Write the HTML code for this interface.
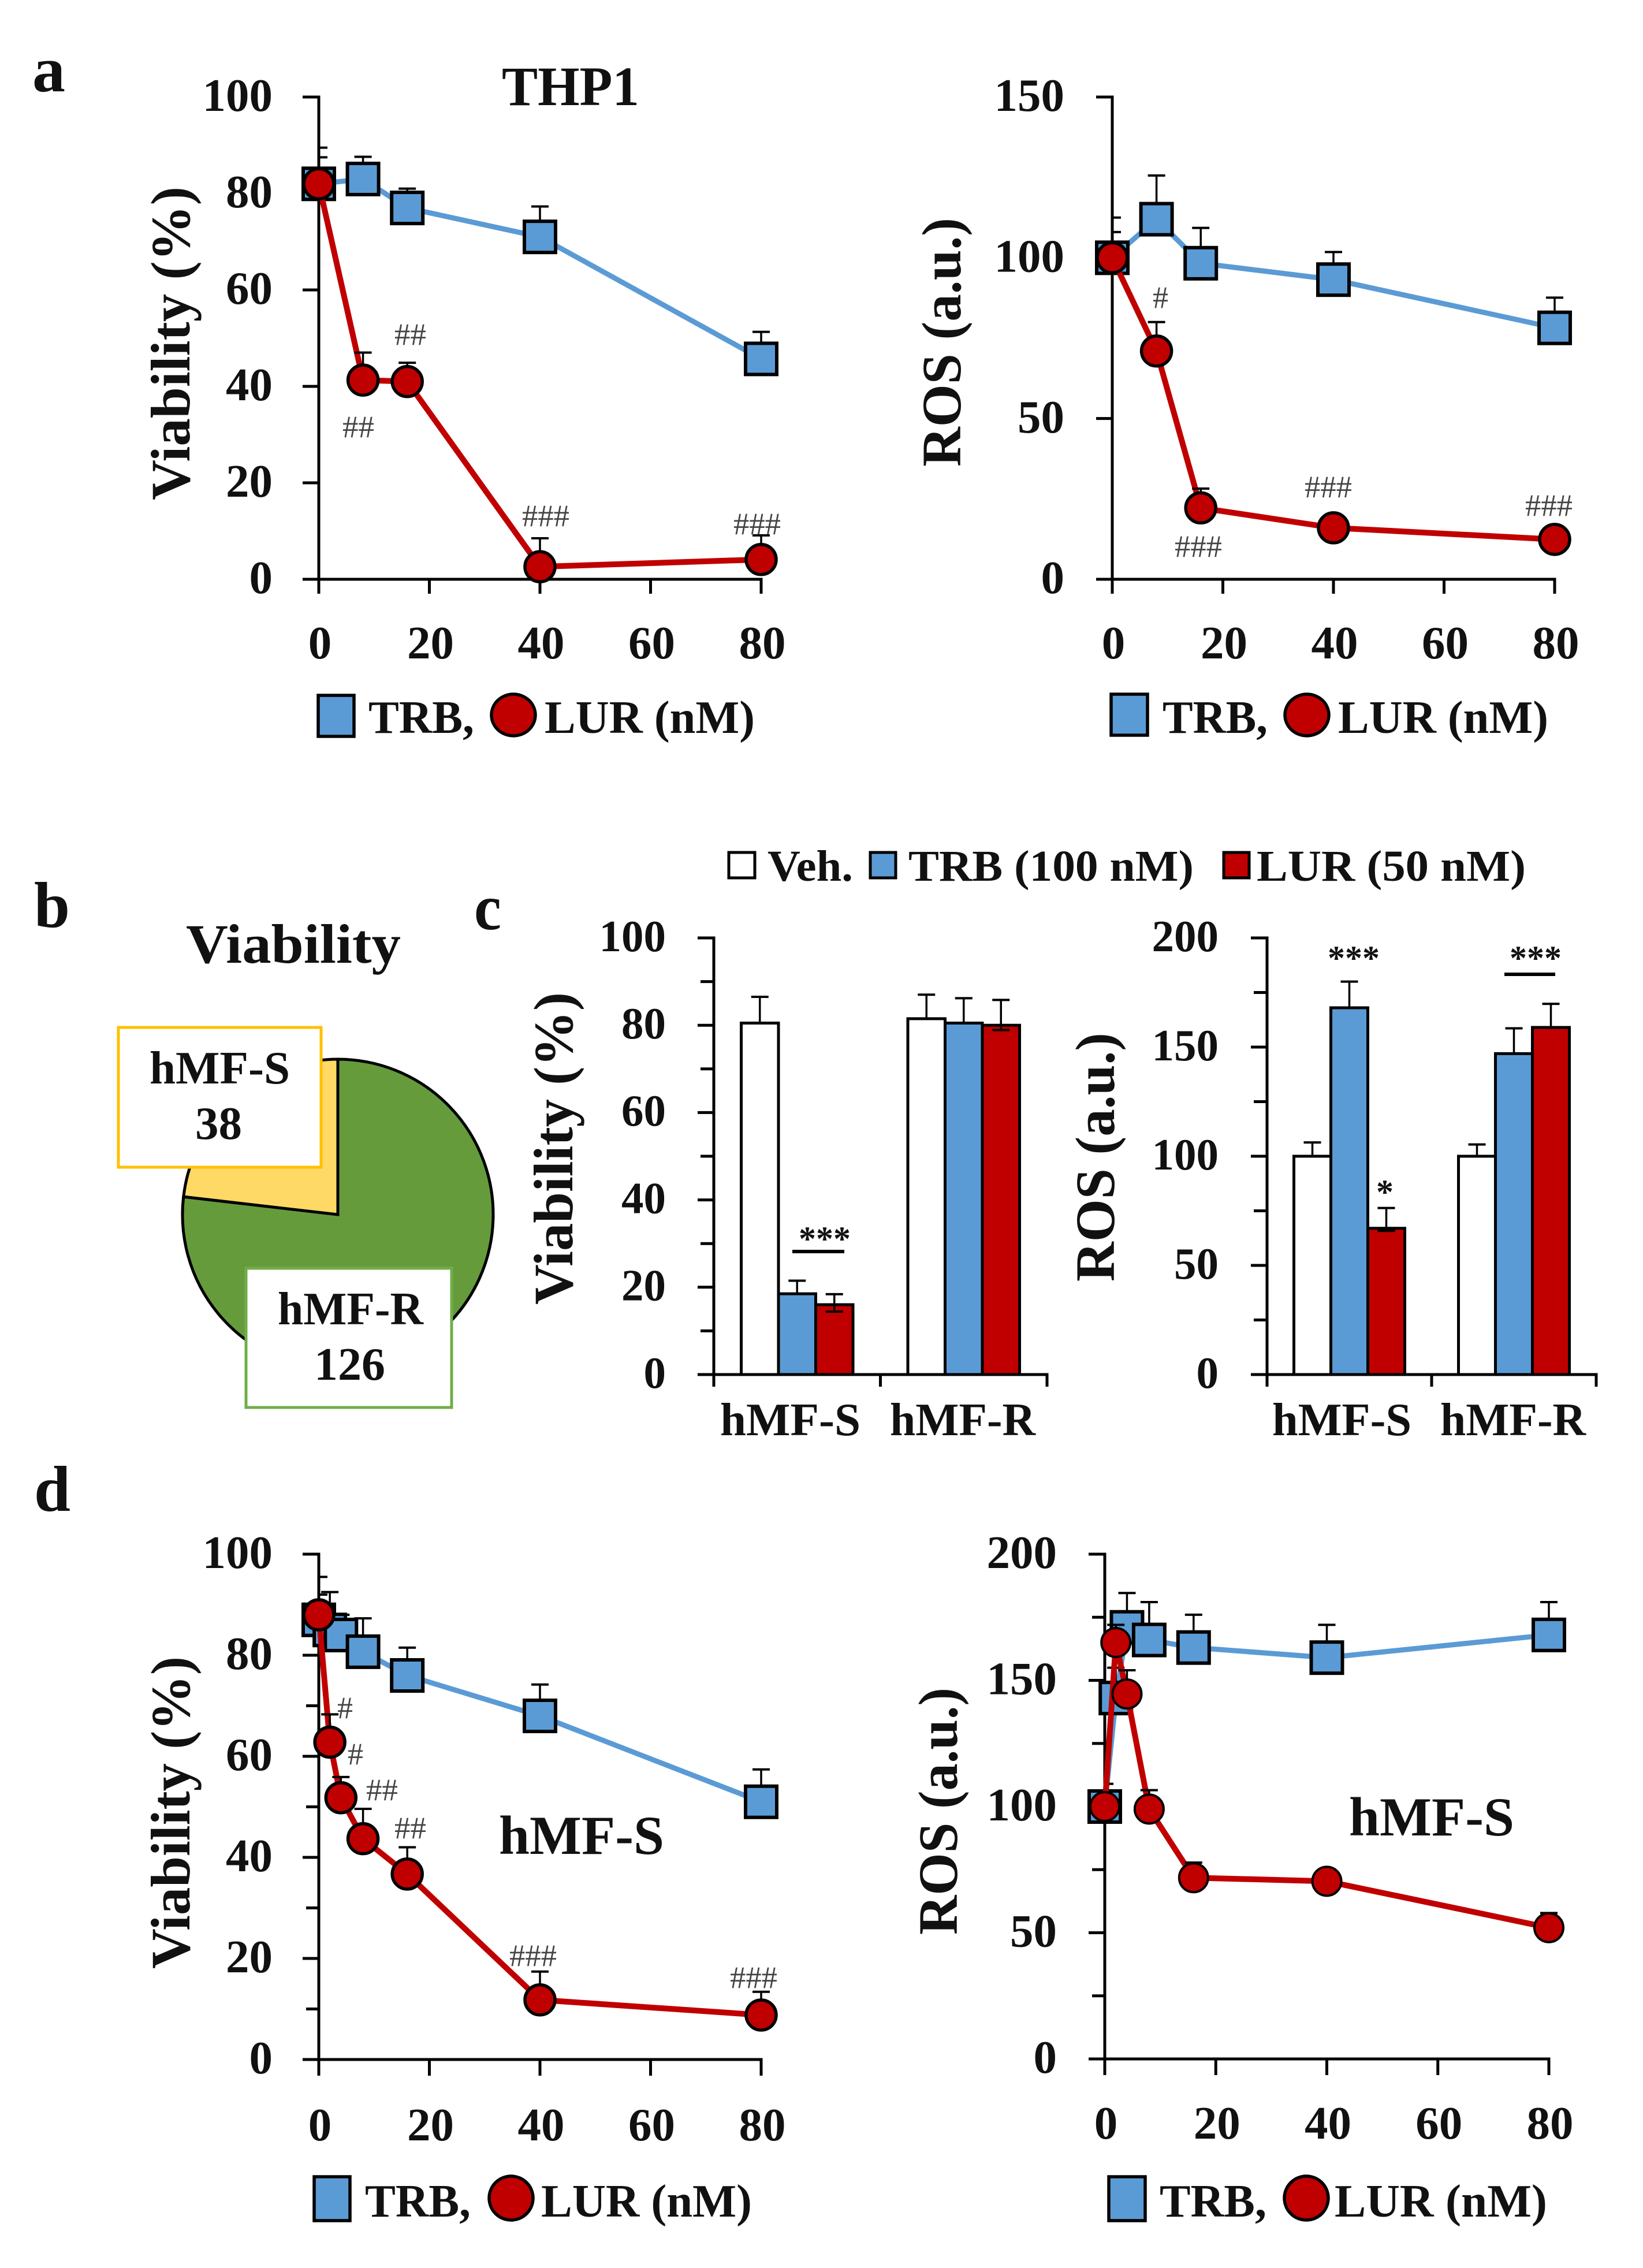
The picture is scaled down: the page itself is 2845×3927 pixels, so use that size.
<!DOCTYPE html>
<html lang="en">
<head>
<meta charset="utf-8">
<title>TRB and LUR viability and ROS charts</title>
<style>
html,body{margin:0;padding:0;background:#fff;}
svg{display:block;}
text{font-family:"Liberation Serif","DejaVu Serif",serif;font-weight:bold;fill:#111;}
.h{font-weight:normal;fill:#444;font-size:54px;}
.pl{font-size:112px;}
.t96{font-size:96px;}
.t80{font-size:80px;}
.t76{font-size:76px;}
.t95{font-size:95px;}
.st{font-size:60px;}
</style>
</head>
<body>
<svg id="fig" xmlns="http://www.w3.org/2000/svg" width="2845" height="3927" viewBox="0 0 2845 3927">
<rect x="0" y="0" width="2845" height="3927" fill="#fff"/>

<g id="chart-a-viab"></g>
<g id="chart-a-ros"></g>
<g id="pie"></g>
<g id="chart-c-viab"></g>
<g id="chart-c-ros"></g>
<g id="chart-d-viab"></g>
<g id="chart-d-ros"></g>

<g>
<text class="pl" x="56" y="158" textLength="57" lengthAdjust="spacingAndGlyphs">a</text>
<text class="pl" x="59" y="1605" textLength="62" lengthAdjust="spacingAndGlyphs">b</text>
<text class="pl" x="821" y="1609" textLength="47" lengthAdjust="spacingAndGlyphs">c</text>
<text class="pl" x="59" y="2616" textLength="63" lengthAdjust="spacingAndGlyphs">d</text>
</g>

<text class="t96" x="869" y="182" textLength="238" lengthAdjust="spacingAndGlyphs">THP1</text>
<text class="t96" x="322" y="1667" textLength="372" lengthAdjust="spacingAndGlyphs">Viability</text>
<text class="t95" x="864" y="3210" textLength="286" lengthAdjust="spacingAndGlyphs">hMF-S</text>
<text class="t95" x="2336" y="3178" textLength="286" lengthAdjust="spacingAndGlyphs">hMF-S</text>

<g>
<text class="t96" transform="translate(328 866) rotate(-90)" textLength="543" lengthAdjust="spacingAndGlyphs">Viability (%)</text>
<text class="t96" transform="translate(1663 808) rotate(-90)" textLength="431" lengthAdjust="spacingAndGlyphs">ROS (a.u.)</text>
<text class="t96" transform="translate(991 2259) rotate(-90)" textLength="541" lengthAdjust="spacingAndGlyphs">Viability (%)</text>
<text class="t96" transform="translate(1929 2219) rotate(-90)" textLength="431" lengthAdjust="spacingAndGlyphs">ROS (a.u.)</text>
<text class="t96" transform="translate(328 3409) rotate(-90)" textLength="541" lengthAdjust="spacingAndGlyphs">Viability (%)</text>
<text class="t96" transform="translate(1657 3350) rotate(-90)" textLength="428" lengthAdjust="spacingAndGlyphs">ROS (a.u.)</text>
</g>

<g>
<rect x="551" y="1204" width="62" height="71" fill="#5B9BD5" stroke="#000" stroke-width="5.5"/>
<text class="t80" x="638" y="1269" textLength="183" lengthAdjust="spacingAndGlyphs">TRB,</text>
<ellipse cx="889" cy="1238" rx="38" ry="36" fill="#C00000" stroke="#000" stroke-width="5.5"/>
<text class="t80" x="943" y="1269" textLength="364" lengthAdjust="spacingAndGlyphs">LUR (nM)</text>
</g>
<g>
<rect x="1924" y="1202" width="63" height="71" fill="#5B9BD5" stroke="#000" stroke-width="5.5"/>
<text class="t80" x="2013" y="1269" textLength="182" lengthAdjust="spacingAndGlyphs">TRB,</text>
<ellipse cx="2263" cy="1238" rx="38" ry="36" fill="#C00000" stroke="#000" stroke-width="5.5"/>
<text class="t80" x="2317" y="1269" textLength="364" lengthAdjust="spacingAndGlyphs">LUR (nM)</text>
</g>
<g>
<rect x="544" y="3769" width="62" height="76" fill="#5B9BD5" stroke="#000" stroke-width="5.5"/>
<text class="t80" x="632" y="3838" textLength="183" lengthAdjust="spacingAndGlyphs">TRB,</text>
<ellipse cx="885" cy="3806" rx="38" ry="38" fill="#C00000" stroke="#000" stroke-width="5.5"/>
<text class="t80" x="937" y="3838" textLength="365" lengthAdjust="spacingAndGlyphs">LUR (nM)</text>
</g>
<g>
<rect x="1920" y="3769" width="63" height="76" fill="#5B9BD5" stroke="#000" stroke-width="5.5"/>
<text class="t80" x="2008" y="3838" textLength="185" lengthAdjust="spacingAndGlyphs">TRB,</text>
<ellipse cx="2262" cy="3806" rx="38" ry="38" fill="#C00000" stroke="#000" stroke-width="5.5"/>
<text class="t80" x="2311" y="3838" textLength="368" lengthAdjust="spacingAndGlyphs">LUR (nM)</text>
</g>
<g>
<rect x="1262" y="1476" width="45" height="44" fill="#fff" stroke="#000" stroke-width="5"/>
<text class="t76" x="1329" y="1525" textLength="148" lengthAdjust="spacingAndGlyphs">Veh.</text>
<rect x="1507" y="1476" width="44" height="44" fill="#5B9BD5" stroke="#000" stroke-width="5"/>
<text class="t76" x="1573" y="1525" textLength="494" lengthAdjust="spacingAndGlyphs">TRB (100 nM)</text>
<rect x="2119" y="1476" width="44" height="44" fill="#C00000" stroke="#000" stroke-width="5"/>
<text class="t76" x="2176" y="1525" textLength="466" lengthAdjust="spacingAndGlyphs">LUR (50 nM)</text>
</g>

<g>
<text class="h" x="683" y="597" textLength="55" lengthAdjust="spacingAndGlyphs">##</text>
<text class="h" x="593" y="757" textLength="55" lengthAdjust="spacingAndGlyphs">##</text>
<text class="h" x="904" y="911" textLength="82" lengthAdjust="spacingAndGlyphs">###</text>
<text class="h" x="1270" y="925" textLength="82" lengthAdjust="spacingAndGlyphs">###</text>
<text class="h" x="1996" y="533" textLength="27" lengthAdjust="spacingAndGlyphs">#</text>
<text class="h" x="2259" y="861" textLength="82" lengthAdjust="spacingAndGlyphs">###</text>
<text class="h" x="2641" y="893" textLength="82" lengthAdjust="spacingAndGlyphs">###</text>
<text class="h" x="2034" y="964" textLength="82" lengthAdjust="spacingAndGlyphs">###</text>
<text class="h" x="584" y="2975" textLength="27" lengthAdjust="spacingAndGlyphs">#</text>
<text class="h" x="602" y="3055" textLength="27" lengthAdjust="spacingAndGlyphs">#</text>
<text class="h" x="634" y="3117" textLength="55" lengthAdjust="spacingAndGlyphs">##</text>
<text class="h" x="683" y="3183" textLength="55" lengthAdjust="spacingAndGlyphs">##</text>
<text class="h" x="882" y="3404" textLength="82" lengthAdjust="spacingAndGlyphs">###</text>
<text class="h" x="1264" y="3442" textLength="82" lengthAdjust="spacingAndGlyphs">###</text>
<text class="st" x="1383" y="2165" textLength="90" lengthAdjust="spacingAndGlyphs">***</text>
<line x1="1372" y1="2167" x2="1462" y2="2167" stroke="#000" stroke-width="6"/>
<text class="st" x="2299" y="1679" textLength="90" lengthAdjust="spacingAndGlyphs">***</text>
<text class="st" x="2614" y="1679" textLength="90" lengthAdjust="spacingAndGlyphs">***</text>
<line x1="2605" y1="1687" x2="2693" y2="1687" stroke="#000" stroke-width="6"/>
<text class="st" x="2383" y="2084" textLength="30" lengthAdjust="spacingAndGlyphs">*</text>
</g>

<g>
<rect x="205" y="1779" width="351" height="242" fill="#fff" stroke="#FFC000" stroke-width="5"/>
<text class="t80" x="259" y="1876" textLength="243" lengthAdjust="spacingAndGlyphs">hMF-S</text>
<text class="t80" x="338" y="1972" textLength="81" lengthAdjust="spacingAndGlyphs">38</text>
</g>
<g>
<rect x="426" y="2196" width="356" height="241" fill="#fff" stroke="#70AD47" stroke-width="5"/>
<text class="t80" x="481" y="2293" textLength="252" lengthAdjust="spacingAndGlyphs">hMF-R</text>
<text class="t80" x="544" y="2389" textLength="123" lengthAdjust="spacingAndGlyphs">126</text>
</g>
</svg>

<script>
/* ---------- Panel a: viability ---------- */
const aViabDose = [0, 8, 16, 40, 80];
const aViabTrb = [82, 83, 77, 71, 45.7];
const aViabTrbErr = [5.5, 4.6, 4, 6.3, 5.6];
const aViabLur = [82, 41.3, 41, 2.6, 4.1];
const aViabLurErr = [7.5, 5.7, 3.9, 5.9, 5];
const aViabYTicks = [0, 20, 40, 60, 80, 100];
const aViabXTicks = [0, 20, 40, 60, 80];

/* ---------- Panel a: ROS ---------- */
const aRosDose = [0, 8, 16, 40, 80];
const aRosTrb = [100, 112, 98.3, 93.2, 78.2];
const aRosTrbErr = [12.5, 13.6, 11, 8.6, 9.4];
const aRosLur = [100, 71, 22.2, 16, 12.4];
const aRosLurErr = [8, 9, 6, 0, 0];
const aRosYTicks = [0, 50, 100, 150];
const aRosXTicks = [0, 20, 40, 60, 80];

/* ---------- Panel b: pie ---------- */
const pieLabels = ['hMF-S', 'hMF-R'];
const pieValues = [38, 126];

/* ---------- Panel c: bars ---------- */
const cCategories = ['hMF-S', 'hMF-R'];
const cSeries = ['Veh', 'TRB', 'LUR'];
const cViabVeh = [80.5, 81.5];
const cViabTrb = [18.5, 80.5];
const cViabLur = [16, 80];
const cViabVehErr = [6, 5.5];
const cViabTrbErr = [3, 5.7];
const cViabLurErr = [2.4, 5.8];
const cViabLurLow = [1.6, 1.1];
const cViabYMajor = [0, 20, 40, 60, 80, 100];
const cViabYMinor = [10, 30, 50, 70, 90];
const cRosVeh = [100, 100];
const cRosTrb = [168, 147];
const cRosLur = [67, 159];
const cRosVehErr = [6.3, 5.4];
const cRosTrbErr = [12, 11.6];
const cRosLurErr = [9.3, 10.8];
const cRosLurLow = [1.2, 0];
const cRosYMajor = [0, 50, 100, 150, 200];
const cRosYMinor = [25, 75, 125, 175];

/* ---------- Panel d: viability ---------- */
const dViabDose = [0, 2, 4, 8, 16, 40, 80];
const dViabTrb = [87, 85, 84, 80.7, 76, 68, 51];
const dViabTrbErr = [8.5, 7.5, 4, 6.6, 5.5, 6.2, 6.4];
const dViabLur = [88, 62.8, 51.8, 43.7, 36.7, 11.8, 8.8];
const dViabLurErr = [4, 5.5, 4.1, 5.9, 5.3, 5.6, 4.6];
const dViabYMajor = [0, 20, 40, 60, 80, 100];
const dViabYMinor = [10, 30, 50, 70, 90];
const dViabXTicks = [0, 20, 40, 60, 80];

/* ---------- Panel d: ROS ---------- */
const dRosDose = [0, 2, 4, 8, 16, 40, 80];
const dRosTrb = [100, 143, 171, 166, 163, 159, 168];
const dRosTrbErr = [9, 12, 13.6, 15, 13, 13, 13];
const dRosLur = [100, 165, 144.6, 99, 71.8, 70.4, 52];
const dRosLurErr = [0, 7, 9.4, 7.5, 6, 0, 5.8];
const dRosYMajor = [0, 50, 100, 150, 200];
const dRosYMinor = [25, 75, 125, 175];
const dRosXTicks = [0, 20, 40, 60, 80];

const SVGNS = 'http://www.w3.org/2000/svg';
const BLUE = '#5B9BD5', RED = '#C00000', GREEN = '#669B3C', YELLOW = '#FFD966';

function mk(parent, tag, name, attrs, txt) {
  const el = document.createElementNS(SVGNS, tag);
  
  
  for (const k in attrs) el.setAttributeNS(null, k, attrs[k]);
  if (txt !== undefined) el.textContent = txt;
  parent.appendChild(el);
  return el;
}
function seg(p, name, x1, y1, x2, y2, w, color) {
  return mk(p, 'line', name, {x1: x1, y1: y1, x2: x2, y2: y2, stroke: color || '#000', 'stroke-width': w});
}

function yAxis(g, o, yS, major, minor) {
  seg(g, 'y-axis-line', o.x0, o.yTop - 2.5, o.x0, o.y0 + 2.5, 5);
  major.forEach(function (v) {
    seg(g, 'y-axis-tick', o.x0 - o.majorLen, yS(v), o.x0, yS(v), 5);
    mk(g, 'text', 'y-axis-tick-label', {x: o.labelRight, y: yS(v) + o.fs * 0.335 - 3, 'text-anchor': 'end', style: 'font-size:' + o.fs + 'px'}, String(v));
  });
  (minor || []).forEach(function (v) {
    seg(g, 'y-axis-minor-tick', o.x0 - o.minorLen, yS(v), o.x0, yS(v), 5);
  });
}

function series(g, o, xS, yS, dose, vals, errs, kind, color, lineW) {
  const pts = dose.map(function (d, i) { return xS(d) + ',' + yS(vals[i]); }).join(' ');
  mk(g, 'polyline', kind === 'square' ? 'trb-line' : 'lur-line', {points: pts, fill: 'none', stroke: color, 'stroke-width': lineW, 'stroke-linejoin': 'round'});
  dose.forEach(function (d, i) {
    if (errs[i] > 0) {
      const x = xS(d), top = yS(vals[i] + errs[i]);
      seg(g, 'error-bar-stem', x, yS(vals[i]), x, top, 3.5);
      seg(g, 'error-bar-cap', Math.max(x - 15, o.x0), top, x + 15, top, 4);
    }
  });
  dose.forEach(function (d, i) {
    const x = xS(d), y = yS(vals[i]);
    if (kind === 'square') {
      mk(g, 'rect', 'trb-point', {x: x - 27, y: y - 27, width: 54, height: 54, fill: color, stroke: '#000', 'stroke-width': 6});
    } else {
      mk(g, 'circle', 'lur-point', {cx: x, cy: y, r: o.r || 26, fill: color, stroke: '#000', 'stroke-width': o.rs || 5.5});
    }
  });
}

function xyChart(id, o, dose, trb, trbE, lur, lurE, yMajor, yMinor, xTicks) {
  const g = document.getElementById(id);
  const xS = function (v) { return o.x0 + v * (o.x1 - o.x0) / o.xMax; };
  const yS = function (v) { return o.y0 - v * (o.y0 - o.yTop) / o.yMax; };
  yAxis(g, o, yS, yMajor, yMinor);
  seg(g, 'x-axis-line', o.x0 - o.majorLen, o.y0, o.x1 + 2.5, o.y0, 5);
  xTicks.forEach(function (v) {
    seg(g, 'x-axis-tick', xS(v), o.y0, xS(v), o.y0 + o.tickDown, 5);
    mk(g, 'text', 'x-axis-tick-label', {x: xS(v) + 2, y: o.xLabelY, 'text-anchor': 'middle', style: 'font-size:' + o.fs + 'px'}, String(v));
  });
  series(g, o, xS, yS, dose, trb, trbE, 'square', BLUE, 9);
  series(g, o, xS, yS, dose, lur, lurE, 'circle', RED, 10);
}

xyChart('chart-a-viab', {x0: 552, x1: 1318, xMax: 80, y0: 1003, yTop: 168, yMax: 100, majorLen: 28, minorLen: 20, labelRight: 472, fs: 81, tickDown: 25, xLabelY: 1140},
  aViabDose, aViabTrb, aViabTrbErr, aViabLur, aViabLurErr, aViabYTicks, [], aViabXTicks);
xyChart('chart-a-ros', {x0: 1926, x1: 2692, xMax: 80, y0: 1003, yTop: 168, yMax: 150, majorLen: 28, minorLen: 20, labelRight: 1843, fs: 81, tickDown: 25, xLabelY: 1140},
  aRosDose, aRosTrb, aRosTrbErr, aRosLur, aRosLurErr, aRosYTicks, [], aRosXTicks);
xyChart('chart-d-viab', {x0: 552, x1: 1318, xMax: 80, y0: 3566, yTop: 2691, yMax: 100, majorLen: 28, minorLen: 22, labelRight: 472, fs: 81, tickDown: 28, xLabelY: 3706},
  dViabDose, dViabTrb, dViabTrbErr, dViabLur, dViabLurErr, dViabYMajor, dViabYMinor, dViabXTicks);
xyChart('chart-d-ros', {x0: 1913, x1: 2682, xMax: 80, y0: 3565, yTop: 2691, yMax: 200, majorLen: 28, minorLen: 22, labelRight: 1830, fs: 81, tickDown: 28, xLabelY: 3703, r: 25, rs: 4},
  dRosDose, dRosTrb, dRosTrbErr, dRosLur, dRosLurErr, dRosYMajor, dRosYMinor, dRosXTicks);

function barChart(id, o, cats, groups, errs, lurLow, major, minor) {
  const g = document.getElementById(id);
  const yS = function (v) { return o.y0 - v * (o.y0 - o.yTop) / o.yMax; };
  const band = (o.x1 - o.x0) / cats.length;
  const colors = ['#fff', BLUE, RED];
  yAxis(g, o, yS, major, minor);
  cats.forEach(function (c, ci) {
    const centre = o.x0 + band * (ci + 0.5) + o.shift;
    groups.forEach(function (vals, si) {
      const x = centre + (si - 1.5) * o.barW;
      const mid = x + o.barW / 2;
      const top = yS(vals[ci] + errs[si][ci]);
      mk(g, 'rect', 'bar-' + c.toLowerCase() + '-' + cSeries[si].toLowerCase(), {x: x, y: yS(vals[ci]), width: o.barW, height: o.y0 - yS(vals[ci]), fill: colors[si], stroke: '#000', 'stroke-width': 5});
      seg(g, 'error-bar-stem', mid, yS(vals[ci]), mid, top, 3.5);
      seg(g, 'error-bar-cap', mid - 15, top, mid + 15, top, 4);
      if (si === 2 && lurLow[ci] > 0) {
        const low = yS(vals[ci] - lurLow[ci]);
        seg(g, 'error-bar-stem-lower', mid, yS(vals[ci]), mid, low, 3.5);
        seg(g, 'error-bar-cap-lower', mid - 15, low, mid + 15, low, 4);
      }
    });
    mk(g, 'text', 'x-axis-category-label', {x: o.labelX[ci], y: o.xLabelY, textLength: o.labelW[ci], lengthAdjust: 'spacingAndGlyphs', style: 'font-size:80px'}, c);
  });
  seg(g, 'x-axis-line', o.x0 - o.majorLen, o.y0, o.x1 + 2.5, o.y0, 5);
  for (let i = 0; i <= cats.length; i++) {
    seg(g, 'x-axis-tick', o.x0 + band * i, o.y0, o.x0 + band * i, o.y0 + 21, 5);
  }
}

barChart('chart-c-viab', {x0: 1236, x1: 1813, y0: 2380, yTop: 1624, yMax: 100, majorLen: 28, minorLen: 23, labelRight: 1153, fs: 77, barW: 64.5, shift: 0, xLabelY: 2485, labelX: [1247, 1541], labelW: [243, 252]},
  cCategories, [cViabVeh, cViabTrb, cViabLur], [cViabVehErr, cViabTrbErr, cViabLurErr], cViabLurLow, cViabYMajor, cViabYMinor);
barChart('chart-c-ros', {x0: 2194, x1: 2764, y0: 2380, yTop: 1624, yMax: 200, majorLen: 28, minorLen: 23, labelRight: 2110, fs: 77, barW: 64, shift: 0, xLabelY: 2485, labelX: [2203, 2494], labelW: [241, 252]},
  cCategories, [cRosVeh, cRosTrb, cRosLur], [cRosVehErr, cRosTrbErr, cRosLurErr], cRosLurLow, cRosYMajor, cRosYMinor);

/* Pie: first slice runs counter-clockwise from 12 o'clock */
(function () {
  const g = document.getElementById('pie');
  const cx = 585, cy = 2103, R = 269;
  const total = pieValues[0] + pieValues[1];
  const a = pieValues[0] / total * 2 * Math.PI;
  const px = cx - R * Math.sin(a), py = cy - R * Math.cos(a);
  const top = (cx) + ' ' + (cy - R);
  mk(g, 'path', 'pie-slice-hmf-r', {d: 'M' + cx + ' ' + cy + ' L' + top + ' A' + R + ' ' + R + ' 0 ' + (a < Math.PI ? 1 : 0) + ' 1 ' + px + ' ' + py + ' Z', fill: GREEN, stroke: '#000', 'stroke-width': 5});
  mk(g, 'path', 'pie-slice-hmf-s', {d: 'M' + cx + ' ' + cy + ' L' + top + ' A' + R + ' ' + R + ' 0 ' + (a > Math.PI ? 1 : 0) + ' 0 ' + px + ' ' + py + ' Z', fill: YELLOW, stroke: '#000', 'stroke-width': 5});
})();
</script>
</body>
</html>
